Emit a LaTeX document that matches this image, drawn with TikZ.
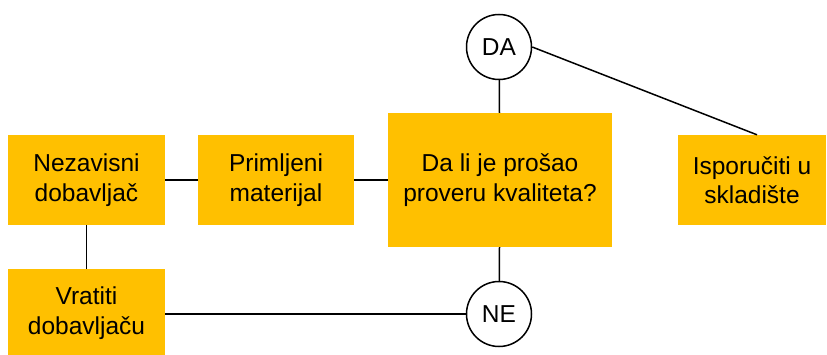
\documentclass[tikz,border=0pt]{standalone}
\usepackage{fontspec}
\setmainfont{Liberation Sans}
\definecolor{boxfill}{HTML}{FFC000}
\begin{document}
\begin{tikzpicture}[x=1pt,y=-1pt,
  box/.style={fill=boxfill, draw=none, inner sep=0pt, align=center,
    font=\fontsize{24.5}{29.5}\selectfont},
  circ/.style={circle, draw=black, line width=1.5pt, fill=white, inner sep=0pt,
    minimum size=65pt, font=\fontsize{24.5}{29.5}\selectfont},
  conn/.style={draw=black, line width=1.5pt}]
\useasboundingbox (0,0) rectangle (827,355);
\node[box, minimum width=157pt, minimum height=90pt] (nez) at (86.5,180) {Nezavisni\\dobavljač};
\node[box, minimum width=156pt, minimum height=90pt] (prim) at (276,180) {Primljeni\\materijal};
\node[box, minimum width=224pt, minimum height=134pt] (dali) at (500,180) {Da li je prošao\\proveru kvaliteta?};
\node[box, minimum width=148pt, minimum height=90pt] (isp) at (752,180) {Isporučiti u\\skladište};
\node[box, minimum width=157pt, minimum height=88pt] (vrat) at (86.5,313) {Vratiti\\dobavljaču};
\node[circ] (da) at (499,47) {DA};
\node[circ] (ne) at (499,314) {NE};
\draw[conn] (nez) -- (prim);
\draw[conn] (prim) -- (dali);
\draw[conn] (dali) -- (da);
\draw[conn] (dali) -- (ne);
\draw[conn] (nez) -- (vrat);
\draw[conn] (vrat.east |- ne) -- (ne);
\draw[conn] (da.east) -- ([xshift=5pt]isp.north);
\end{tikzpicture}
\end{document}
